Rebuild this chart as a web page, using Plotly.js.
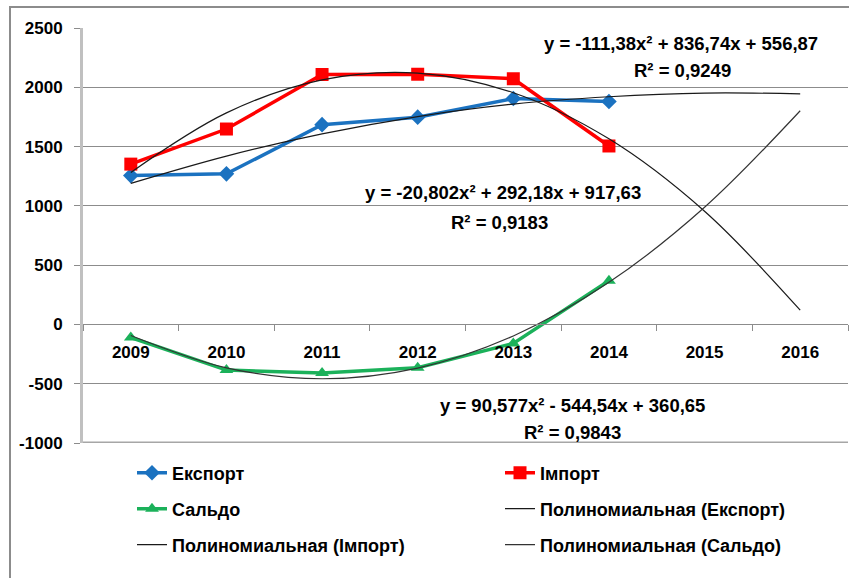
<!DOCTYPE html>
<html>
<head>
<meta charset="utf-8">
<script src="https://cdn.plot.ly/plotly-3.0.1.min.js"></script>
<style>html,body{margin:0;padding:0;background:#fff;}#chart{width:849px;height:578px;}</style>
</head>
<body>
<div id="chart"></div>
<script>
// ---- data ----
const years = ['2009', '2010', '2011', '2012', '2013', '2014', '2015', '2016'];
const dataYears = ['2009', '2010', '2011', '2012', '2013', '2014'];
const exportVals = [1255, 1270, 1685, 1748, 1905, 1880];
const importVals = [1352, 1648, 2108, 2110, 2072, 1505];
const saldoVals = [-110, -385, -410, -365, -160, 368];
// polynomial trendline values at each category
const exportTrend = [1190, 1420, 1607, 1753, 1858, 1920, 1951, 1945];
const importTrend = [1282, 1784, 2063, 2120, 1954, 1565, 954, 120];
const saldoTrend = [-93, -366, -458, -368, -97, 355, 988, 1802];
const seriesNames = ['Експорт', 'Імпорт', 'Сальдо',
  'Полиномиальная (Експорт)', 'Полиномиальная (Імпорт)', 'Полиномиальная (Сальдо)'];
const eqTexts = [
  'y = -111,38x² + 836,74x + 556,87', 'R² = 0,9249',
  'y = -20,802x² + 292,18x + 917,63', 'R² = 0,9183',
  'y = 90,577x² - 544,54x + 360,65', 'R² = 0,9843'
];
const yTicks = [-1000, -500, 0, 500, 1000, 1500, 2000, 2500];

const FONT = 'Liberation Sans, Arial, sans-serif';
const txtFont = {family: FONT, size: 17, color: '#000', weight: 'bold'};

const traces = [
  {x: dataYears, y: exportVals, name: seriesNames[0], type: 'scatter', mode: 'lines+markers',
   line: {color: '#1b72c0', width: 3.5}, marker: {symbol: 'diamond', size: 12, color: '#1b72c0'}, legend: 'legend'},
  {x: dataYears, y: importVals, name: seriesNames[1], type: 'scatter', mode: 'lines+markers',
   line: {color: '#ff0000', width: 3.5}, marker: {symbol: 'square', size: 13, color: '#ff0000'}, legend: 'legend2'},
  {x: dataYears, y: saldoVals, name: seriesNames[2], type: 'scatter', mode: 'lines+markers',
   line: {color: '#1bb15a', width: 3.5}, marker: {symbol: 'triangle-up', size: 12, color: '#1bb15a'}, legend: 'legend3'},
  {x: years, y: exportTrend, name: seriesNames[3], type: 'scatter', mode: 'lines',
   line: {color: '#1a1a1a', width: 1.2, shape: 'spline'}, legend: 'legend4'},
  {x: years, y: importTrend, name: seriesNames[4], type: 'scatter', mode: 'lines',
   line: {color: '#1a1a1a', width: 1.2, shape: 'spline'}, legend: 'legend5'},
  {x: years, y: saldoTrend, name: seriesNames[5], type: 'scatter', mode: 'lines',
   line: {color: '#333333', width: 1.2, shape: 'spline'}, legend: 'legend6'}
];

function px2x(p) { return (p - 83) / 765; }
function py2y(p) { return (443 - p) / 415; }

function legendCfg(col, row) {
  return {orientation: 'v', x: px2x(col), xanchor: 'left', y: py2y(row), yanchor: 'middle',
    bgcolor: 'rgba(0,0,0,0)', borderwidth: 0,
    font: {family: FONT, size: 18, color: '#000', weight: 'bold'}, itemwidth: 30};
}

const ann = [];
const eqPos = [[681, 44], [682, 70], [503, 193], [500, 222], [572, 405], [572, 432]];
eqTexts.forEach((t, i) => {
  ann.push({text: t, xref: 'paper', yref: 'paper', x: px2x(eqPos[i][0]), y: py2y(eqPos[i][1]),
    xanchor: 'center', yanchor: 'middle', showarrow: false, font: {family: FONT, size: 18.5, color: '#000', weight: 'bold'}});
});

const layout = {
  width: 849, height: 578,
  margin: {l: 83, r: 1, t: 28, b: 135, pad: 0},
  paper_bgcolor: '#fff', plot_bgcolor: '#fff',
  showlegend: true,
  xaxis: {type: 'category', categoryorder: 'array', categoryarray: years, range: [-0.5, 7.5],
    anchor: 'free', position: 1000 / 3500, showgrid: false, zeroline: false,
    showline: true, linecolor: '#8c8c8c', linewidth: 1,
    ticks: 'outside', tickson: 'boundaries', ticklen: 6, tickcolor: '#8c8c8c',
    tickfont: txtFont, ticklabelstandoff: 12, automargin: false, fixedrange: true},
  yaxis: {range: [-1000, 2500], tickvals: yTicks, ticktext: yTicks.map(String),
    showgrid: true, gridcolor: '#8c8c8c', gridwidth: 1, zeroline: false,
    showline: true, linecolor: '#c0c0c0', linewidth: 3,
    ticks: 'outside', ticklen: 6, tickcolor: '#8c8c8c',
    tickfont: txtFont, ticklabelstandoff: 8, automargin: false, fixedrange: true},
  legend: legendCfg(132, 473),
  legend2: legendCfg(500, 473),
  legend3: legendCfg(132, 509),
  legend4: legendCfg(500, 509),
  legend5: legendCfg(132, 545),
  legend6: legendCfg(500, 545),
  annotations: ann,
  shapes: [
    {type: 'line', xref: 'paper', yref: 'y', x0: 0, x1: 1, y0: -1000, y1: -1000,
     line: {color: '#a6a6a6', width: 3}, layer: 'below'},
    {type: 'rect', xref: 'paper', yref: 'paper', x0: px2x(10), x1: px2x(860), y0: py2y(590), y1: py2y(7),
     line: {color: '#8c8c8c', width: 2}, fillcolor: 'rgba(0,0,0,0)', layer: 'below'}
  ]
};

Plotly.newPlot('chart', traces, layout, {staticPlot: true, displayModeBar: false});
</script>
</body>
</html>
